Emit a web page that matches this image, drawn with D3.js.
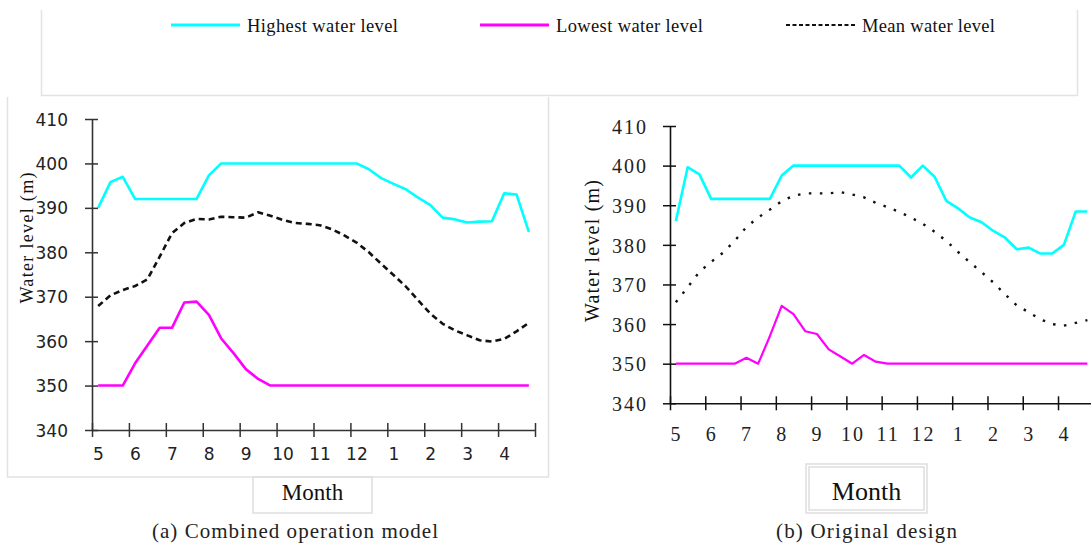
<!DOCTYPE html>
<html>
<head>
<meta charset="utf-8">
<script src="https://cdn.jsdelivr.net/npm/d3@7"></script>
<style>
  html, body { margin: 0; padding: 0; background: #fff; }
  svg { display: block; }
</style>
</head>
<body>
<svg id="chart" width="1091" height="545"></svg>
<script>
// Month labels of the hydrological year (May to April) and water-level ticks
const months = ["5", "6", "7", "8", "9", "10", "11", "12", "1", "2", "3", "4"];
const levelTicks = [340, 350, 360, 370, 380, 390, 400, 410];

// Ten-day (decadal) water levels, 36 periods per year, in metres
// (a) Combined operation model
const highestA = [390, 395.8, 397, 392, 392, 392, 392, 392, 392, 397.3, 400, 400,
                  400, 400, 400, 400, 400, 400, 400, 400, 400, 400, 398.7, 396.7,
                  395.4, 394.2, 392.3, 390.6, 387.8, 387.4, 386.7, 386.9, 387, 393.3, 393, 384.6];
const lowestA  = [350, 350, 350, 355, 359, 363, 363, 368.7, 368.9, 365.9, 360.6, 357.3,
                  353.7, 351.5, 350, 350, 350, 350, 350, 350, 350, 350, 350, 350,
                  350, 350, 350, 350, 350, 350, 350, 350, 350, 350, 350, 350];
const meanA    = [367.9, 370.3, 371.5, 372.4, 373.9, 379, 384.3, 386.6, 387.5, 387.4, 388, 387.9,
                  387.8, 389, 388.2, 387.3, 386.6, 386.4, 386.1, 385.2, 383.8, 382.2, 380, 377.4,
                  374.9, 372.3, 369.2, 366.2, 363.9, 362.4, 361.3, 360.2, 359.9, 360.5, 362.2, 364.1];

// (b) Original design
const highestB = [386, 399.6, 397.8, 391.6, 391.6, 391.6, 391.6, 391.6, 391.6, 397.5, 400, 400,
                  400, 400, 400, 400, 400, 400, 400, 400, 397, 400, 397.2, 391.1,
                  389.2, 386.9, 385.7, 383.5, 381.8, 378.9, 379.3, 377.8, 377.8, 380, 388.4, 388.4];
const lowestB  = [350, 350, 350, 350, 350, 350, 351.5, 350, 357, 364.6, 362.5, 358.2,
                  357.5, 353.6, 351.8, 350, 352.2, 350.5, 350, 350, 350, 350, 350, 350,
                  350, 350, 350, 350, 350, 350, 350, 350, 350, 350, 350, 350];
const meanB    = [365.5, 369.3, 373.2, 375.7, 378, 381, 384.5, 386.9, 388.9, 391, 392.4, 393,
                  393, 393, 393.3, 392.7, 392, 390.6, 389.5, 388.3, 386.9, 385.3, 383.3, 381,
                  378.2, 375.6, 373.1, 370.5, 367.5, 364.7, 363, 361.2, 360, 359.6, 360.3, 361];

const svg = d3.select("#chart");
const SERIF = "Liberation Serif, Times New Roman, serif";
const SANS = "DejaVu Sans, Verdana, sans-serif";

const CYAN = "#00ffff", MAGENTA = "#ff00ff", DARK = "#111";

// ---------- legend strip ----------
svg.append("path")
  .attr("d", "M41.5,10 V95.5 H1077.5 V10")
  .attr("fill", "none").attr("stroke", "#e2e2e2").attr("stroke-width", 1.5);

const legendItems = [
  { label: "Highest water level", color: CYAN, dash: null, x: 171, w: 151 },
  { label: "Lowest water level", color: MAGENTA, dash: null, x: 480, w: 147 },
  { label: "Mean water level", color: DARK, dash: "4,2.5", x: 786, w: 133 }
];
const lg = svg.append("g").selectAll("g").data(legendItems).join("g");
lg.append("line")
  .attr("x1", d => d.x).attr("x2", d => d.x + 69)
  .attr("y1", 25).attr("y2", 25)
  .attr("stroke", d => d.color).attr("stroke-width", d => d.dash ? 2.2 : 3)
  .attr("stroke-dasharray", d => d.dash);
lg.append("text")
  .attr("x", d => d.x + 76).attr("y", 31.5)
  .style("font-family", SERIF).style("font-size", "18.5px")
  .attr("textLength", d => d.w).attr("lengthAdjust", "spacing")
  .attr("fill", "#111")
  .text(d => d.label);

// ---------- shared drawing helper ----------
function drawPanel(cfg) {
  const x = d3.scaleLinear().domain([0, 12]).range(cfg.xRange);
  const y = d3.scaleLinear().domain([340, 410]).range(cfg.yRange);
  const g = svg.append("g");

  // series
  const line = d3.line()
    .x((d, i) => x((i + 0.5) / 3))
    .y(d => y(d));
  const series = [
    { values: cfg.mean, color: DARK, width: cfg.meanWidth, dash: cfg.meanDash },
    { values: cfg.low, color: MAGENTA, width: cfg.lowWidth, dash: null },
    { values: cfg.high, color: CYAN, width: 2.6, dash: null }
  ];
  g.selectAll("path.series").data(series).join("path")
    .attr("class", "series")
    .attr("d", d => line(d.values))
    .attr("fill", "none")
    .attr("stroke", d => d.color)
    .attr("stroke-width", d => d.width)
    .attr("stroke-dasharray", d => d.dash)
    .attr("stroke-linejoin", "round");

  // x axis
  const xAxis = g.append("g")
    .attr("transform", `translate(0,${cfg.yRange[0]})`)
    .call(d3.axisBottom(x)
      .tickValues(d3.range(13))
      .tickFormat((d, i) => months[i] || "")
      .tickSizeOuter(0));
  xAxis.select(".domain").attr("stroke", cfg.axisColor).attr("stroke-width", 1.6);
  xAxis.selectAll(".tick line").attr("y1", -7).attr("y2", 7)
    .attr("stroke", cfg.axisColor).attr("stroke-width", 1.5);
  xAxis.selectAll(".tick text")
    .attr("y", cfg.xLabelY).attr("dy", 0).attr("x", cfg.xLabelDx)
    .style("font-family", cfg.tickFont).style("font-size", cfg.tickSize + "px")
    .attr("letter-spacing", cfg.tickSpacing)
    .attr("fill", "#222");

  // y axis
  const yAxis = g.append("g")
    .attr("transform", `translate(${cfg.xRange[0]},0)`)
    .call(d3.axisLeft(y).tickValues(levelTicks).tickSizeOuter(0));
  yAxis.select(".domain").attr("stroke", cfg.axisColor).attr("stroke-width", 1.6);
  yAxis.selectAll(".tick line").attr("x1", -7).attr("x2", 6)
    .attr("stroke", cfg.axisColor).attr("stroke-width", 1.5);
  yAxis.selectAll(".tick text")
    .attr("x", cfg.yLabelX).attr("dy", "0.36em")
    .style("font-family", cfg.tickFont).style("font-size", cfg.tickSize + "px")
    .attr("letter-spacing", cfg.tickSpacing)
    .attr("fill", "#222");

  // y axis title
  svg.append("text")
    .attr("transform", `translate(${cfg.yTitle.x},${cfg.yTitle.y}) rotate(-90)`)
    .attr("text-anchor", "middle")
    .style("font-family", SERIF).style("font-size", cfg.yTitle.size + "px")
    .attr("textLength", cfg.yTitle.len).attr("lengthAdjust", "spacing")
    .attr("fill", "#111")
    .text("Water level (m)");

  // "Month" box
  cfg.monthBox.rects.forEach(r => {
    svg.append("rect")
      .attr("x", r[0]).attr("y", r[1]).attr("width", r[2]).attr("height", r[3])
      .attr("fill", "none").attr("stroke", "#dedede").attr("stroke-width", 1.5);
  });
  svg.append("text")
    .attr("x", cfg.monthBox.cx).attr("y", 500)
    .attr("text-anchor", "middle")
    .style("font-family", SERIF).style("font-size", cfg.monthBox.size + "px")
    .attr("fill", "#111")
    .text("Month");

  // caption
  svg.append("text")
    .attr("x", cfg.caption.x).attr("y", 538)
    .style("font-family", SERIF).style("font-size", "21px")
    .attr("textLength", cfg.caption.len).attr("lengthAdjust", "spacing")
    .attr("fill", "#222")
    .text(cfg.caption.text);
}

// frame around panel (a)
svg.append("path")
  .attr("d", "M7.5,97 V477 H548.5 V97")
  .attr("fill", "none").attr("stroke", "#e2e2e2").attr("stroke-width", 1.5);

drawPanel({
  xRange: [92, 535], yRange: [430, 119],
  high: highestA, low: lowestA, mean: meanA,
  meanDash: "6,4", meanWidth: 2.6, lowWidth: 2.6,
  axisColor: "#333",
  tickFont: SANS, tickSize: 17, tickSpacing: 0,
  xLabelY: 30, xLabelDx: 6, yLabelX: -24,
  yTitle: { x: 33, y: 238, size: 18, len: 131 },
  monthBox: { rects: [[253, 477, 119, 36]], cx: 312.5, size: 23 },
  caption: { x: 152, len: 286, text: "(a) Combined operation model" }
});

drawPanel({
  xRange: [670, 1093.3], yRange: [403.3, 126],
  high: highestB, low: lowestB, mean: meanB,
  meanDash: "2.5,8.5", meanWidth: 2.4, lowWidth: 2.2,
  axisColor: "#111",
  tickFont: SERIF, tickSize: 20, tickSpacing: 2,
  xLabelY: 38, xLabelDx: 6, yLabelX: -22,
  yTitle: { x: 599, y: 251, size: 20, len: 142 },
  monthBox: { rects: [[806, 464, 121, 49], [809, 467, 115, 43]], cx: 866.5, size: 26 },
  caption: { x: 776, len: 181, text: "(b) Original design" }
});
</script>
</body>
</html>
